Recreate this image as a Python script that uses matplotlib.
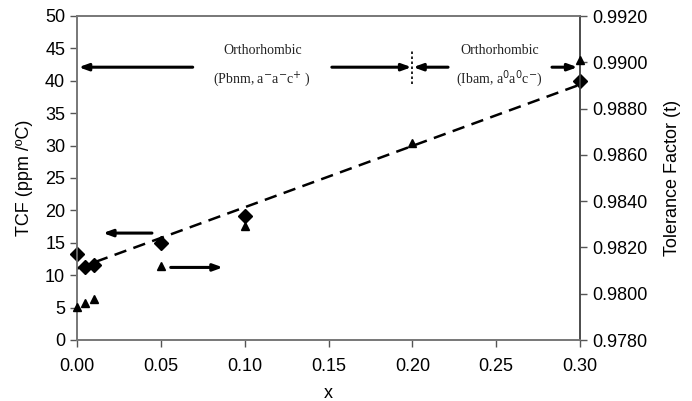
import numpy as np
import matplotlib
matplotlib.use("Agg")
import matplotlib.pyplot as plt

# Data
x_vals = [0.0, 0.005, 0.01, 0.05, 0.10, 0.30]
tcf_vals = [13.2, 11.3, 11.5, 14.9, 19.2, 40.0]
x_tf = [0.0, 0.005, 0.01, 0.05, 0.10, 0.20, 0.30]
tf_vals = [0.97941, 0.97959, 0.97977, 0.98120, 0.98293, 0.98650, 0.99010]
x_ticks = [0.00, 0.05, 0.10, 0.15, 0.20, 0.25, 0.30]
x_ticklabels = ["0.00", "0.05", "0.10", "0.15", "0.20", "0.25", "0.30"]
left_ticks = list(range(0, 55, 5))
right_ticks = [0.978, 0.980, 0.982, 0.984, 0.986, 0.988, 0.990, 0.992]

plt.rcParams['font.family'] = ['Liberation Sans', 'DejaVu Sans']

fig = plt.figure(figsize=(6.92, 4.01), dpi=100)
ax = fig.add_axes([77/692, 1-340/401, (580-77)/692, (340-16)/401])
ax2 = ax.twinx()

# Trend line
coef = np.polyfit(x_vals, tcf_vals, 1)
xl = np.array([0.0, 0.30])
ax.plot(xl, np.polyval(coef, xl), ls=(0, (5, 3)), color='black', lw=1.8, zorder=3)

ax.plot(x_vals, tcf_vals, ls='none', marker='D', color='black', ms=7, zorder=5, clip_on=False)
ax2.plot(x_tf, tf_vals, ls='none', marker='^', color='black', ms=6, zorder=5, clip_on=False)

ax.set_xlim(0, 0.30)
ax.set_ylim(0, 50)
ax2.set_ylim(0.978, 0.992)
ax.set_xticks(x_ticks)
ax.set_xticklabels(x_ticklabels)
ax.set_yticks(left_ticks)
ax2.set_yticks(right_ticks)
ax2.set_yticklabels([f"{v:.4f}" for v in right_ticks])

for a in (ax, ax2):
    a.tick_params(labelsize=13, length=5, width=1, color='#555555', direction='out')
    for s in a.spines.values():
        s.set_color('#777777')
        s.set_linewidth(1.2)
ax2.spines['right'].set_color('#444444')
ax.tick_params(axis='x', pad=8)

ax.set_xlabel("x", fontsize=13, labelpad=7)
ax.set_ylabel("TCF (ppm /ºC)", fontsize=13, labelpad=9)
ax2.set_ylabel("Tolerance Factor (t)", fontsize=13, labelpad=12)

# Annotations
arrow_kw = dict(arrowstyle='-|>,head_length=0.55,head_width=0.2', color='black', lw=2.2,
                shrinkA=0, shrinkB=0)
ax.annotate("", xy=(0.001, 42.1), xytext=(0.069, 42.1), arrowprops=arrow_kw)
ax.annotate("", xy=(0.1995, 42.1), xytext=(0.152, 42.1), arrowprops=arrow_kw)
ax.annotate("", xy=(0.2005, 42.1), xytext=(0.2213, 42.1), arrowprops=arrow_kw)
ax.annotate("", xy=(0.2985, 42.1), xytext=(0.2833, 42.1), arrowprops=arrow_kw)
ax.plot([0.2, 0.2], [39.5, 44.8], ls=(0, (1.5, 1.5)), color='black', lw=1.2)

ax.annotate("", xy=(0.0155, 16.5), xytext=(0.0447, 16.5), arrowprops=arrow_kw)
ax.annotate("", xy=(0.087, 11.2), xytext=(0.0559, 11.2), arrowprops=arrow_kw)

serif = ['Liberation Serif', 'DejaVu Serif']
ax.text(0.1105, 44.6, "Orthorhombic", family=serif, fontsize=10, ha='center', va='center', color='#222222')
ax.text(0.1105, 40.3, r"(Pbnm, a$^{-}$a$^{-}$c$^{+}$ )", family=serif, fontsize=10, ha='center', va='center', color='#222222')
ax.text(0.252, 44.6, "Orthorhombic", family=serif, fontsize=10, ha='center', va='center', color='#222222')
ax.text(0.252, 40.3, r"(Ibam, a$^{0}$a$^{0}$c$^{-}$)", family=serif, fontsize=10, ha='center', va='center', color='#222222')

fig.savefig("out.png", dpi=100)
